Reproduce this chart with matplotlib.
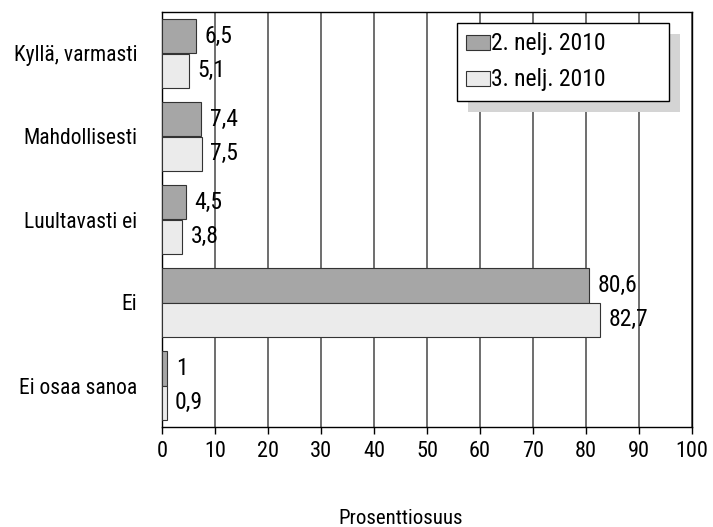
import numpy as np
import matplotlib
matplotlib.use('Agg')
import matplotlib.pyplot as plt

plt.rcParams['font.family'] = ['Roboto Condensed', 'Archivo Narrow', 'PT Sans Narrow',
                               'Liberation Sans Narrow', 'DejaVu Sans']

categories = ["Kyllä, varmasti", "Mahdollisesti", "Luultavasti ei", "Ei", "Ei osaa sanoa"]
q2_2010 = [6.5, 7.4, 4.5, 80.6, 1.0]
q3_2010 = [5.1, 7.5, 3.8, 82.7, 0.9]
series_names = ["2. nelj. 2010", "3. nelj. 2010"]
x_ticks = list(range(0, 101, 10))

fig = plt.figure(figsize=(7.13, 5.27), dpi=100)
ax = fig.add_axes([162 / 713, 1 - 427 / 527, 530 / 713, 415 / 527])

y = np.arange(len(categories))
h = 0.42
bars1 = ax.barh(y - h / 2, q2_2010, h, color='#a6a6a6', edgecolor='#333333', linewidth=0.8,
                label=series_names[0], zorder=3)
bars2 = ax.barh(y + h / 2, q3_2010, h, color='#ebebeb', edgecolor='#333333', linewidth=0.8,
                label=series_names[1], zorder=3)

# value labels with decimal comma
for bars, vals in ((bars1, q2_2010), (bars2, q3_2010)):
    for b, v in zip(bars, vals):
        txt = f"{v:g}".replace('.', ',')
        ax.annotate(txt, (v, b.get_y() + b.get_height() / 2), xytext=(6, 0),
                    textcoords='offset points', va='center', ha='left', fontsize=17, zorder=4)

ax.set_xlim(0, 100)
ax.set_ylim(len(categories) - 0.5, -0.5)
ax.set_xticks(x_ticks)
ax.tick_params(axis='x', direction='out', length=5, width=1, labelsize=16, pad=5)
ax.set_yticks(y)
ax.set_yticklabels(categories, fontsize=15.5)
ax.tick_params(axis='y', length=0, pad=18)
ax.grid(axis='x', color='#555555', linewidth=1.2, zorder=0)
for s in ax.spines.values():
    s.set_color('black')
    s.set_linewidth(1)

ax.set_xlabel("Prosenttiosuus", fontsize=15)
ax.xaxis.set_label_coords(0.451, (427 - 518) / 415)
ax.xaxis.label.set_va('center')

leg = ax.legend(loc='upper left',
                bbox_to_anchor=(457 / 713, 1 - 101 / 527, 212 / 713, 78 / 527),
                bbox_transform=fig.transFigure, mode='expand', fontsize=17,
                frameon=True, fancybox=False,
                borderpad=0.4, handlelength=1.0, handleheight=0.6, handletextpad=0.05,
                labelspacing=0.55, borderaxespad=0,
                shadow={'ox': 8, 'oy': -8, 'facecolor': '#d4d4d4', 'edgecolor': 'none', 'alpha': 1})
leg.get_frame().set_edgecolor('black')
leg.get_frame().set_linewidth(1)
leg.set_zorder(5)

fig.savefig('out.png', dpi=100)
